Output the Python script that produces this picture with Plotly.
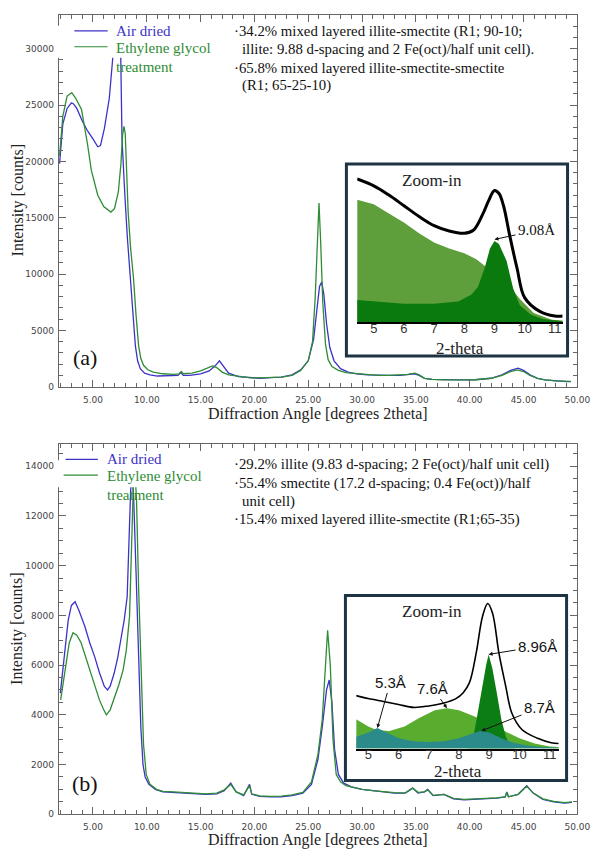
import plotly.graph_objects as go

W, H = 606, 855
def px(x): return x / W
def py(y): return 1 - y / H

# ---------------- data: panel (a) ----------------
a_air_x = [1.9, 2.2, 2.6, 3.0, 3.2, 3.5, 4.0, 4.5, 5.0, 5.45, 5.7, 6.06, 6.52, 6.82, 7.05, 7.3, 7.58, 7.7, 7.8, 7.97,
           8.2, 8.48, 8.7, 8.94, 9.15, 9.4, 9.8, 10.3, 11.0, 12.0, 12.9, 13.15, 13.4, 14.0, 15.0, 15.8, 16.4, 16.75,
           17.1, 17.6, 18.5, 19.5, 20.5, 21.5, 22.5, 23.5, 24.3, 25.0, 25.5, 25.8, 26.05, 26.25, 26.45, 26.7, 27.0,
           27.4, 28.0, 28.7, 29.5, 30.5, 31.5, 32.5, 33.5, 34.3, 34.9, 35.3, 35.8, 36.5, 37.5, 39.0, 40.5, 42.0,
           43.0, 43.8, 44.5, 45.0, 45.6, 46.3, 47.0, 48.0, 49.0, 49.4]
a_air_y = [19800, 23300, 24700, 25200, 25100, 24700, 23600, 22700, 22000, 21300, 21400, 22900, 25600, 28600, 31500,
           32000, 29500, 22000, 19500, 16900, 13200, 9600, 6600, 3650, 2300, 1600, 1200, 1050, 950, 950, 1000, 1250,
           1000, 1000, 1150, 1400, 1900, 2300, 1800, 1200, 900, 800, 750, 800, 850, 1050, 1500, 2300, 4200, 6800,
           8900, 9300, 8200, 5600, 3500, 2300, 1600, 1300, 1150, 1050, 1000, 1000, 1000, 1050, 1150, 1000, 750,
           650, 620, 600, 620, 750, 1050, 1450, 1650, 1450, 1050, 750, 600, 500, 450, 450]
a_eg_x = [1.9, 2.2, 2.6, 3.03, 3.4, 3.94, 4.5, 4.85, 5.45, 6.0, 6.67, 7.0, 7.36, 7.6, 7.75, 7.88, 8.0, 8.1, 8.27,
          8.5, 8.77, 9.0, 9.24, 9.45, 9.7, 10.1, 10.6, 11.5, 12.5, 13.0, 13.2, 13.4, 14.2, 15.0, 15.6, 16.1, 16.5,
          17.0, 17.6, 18.5, 19.5, 20.5, 21.5, 22.5, 23.5, 24.3, 25.0, 25.4, 25.65, 25.85, 26.0, 26.15, 26.35, 26.6,
          26.85, 27.2, 27.8, 28.5, 29.5, 30.5, 31.5, 32.5, 33.5, 34.3, 34.9, 35.3, 35.8, 36.5, 37.5, 39.0, 40.5,
          42.0, 43.0, 43.8, 44.4, 45.0, 45.6, 46.3, 47.0, 48.0, 49.0, 49.4]
a_eg_y = [20500, 24000, 25800, 26100, 25600, 24600, 21500, 19200, 17000, 16000, 15500, 15800, 17300, 19800, 22300,
          23100, 22500, 19500, 15500, 12300, 9600, 6400, 3650, 2500, 1900, 1500, 1300, 1150, 1100, 1150, 1350, 1150,
          1200, 1400, 1650, 1850, 1700, 1300, 1050, 900, 800, 780, 800, 850, 1000, 1450, 2300, 4000, 8000, 13500,
          16300, 13000, 7500, 3800, 2400, 1800, 1450, 1250, 1150, 1050, 1000, 1000, 1050, 1100, 1200, 1050, 750,
          650, 600, 600, 620, 750, 1000, 1350, 1500, 1350, 1000, 750, 600, 520, 480, 470]

# ---------------- data: panel (b) ----------------
b_air_x = [1.97, 2.3, 2.7, 3.0, 3.34, 3.7, 4.25, 4.7, 5.15, 5.6, 6.06, 6.36, 6.6, 6.97, 7.3, 7.58, 7.9, 8.18, 8.35,
           8.5, 8.65, 8.8, 9.0, 9.2, 9.45, 9.65, 9.85, 10.2, 10.8, 11.5, 12.5, 13.5, 14.5, 15.5, 16.5, 17.2, 17.8,
           18.3, 19.0, 19.55, 19.75, 20.5, 21.5, 22.5, 23.5, 24.5, 25.3, 25.9, 26.3, 26.7, 26.95, 27.2, 27.45, 27.8,
           28.3, 29.0, 30.0, 31.0, 32.0, 33.0, 34.0, 34.7, 35.2, 35.8, 36.1, 36.6, 37.6, 38.5, 39.5, 40.5, 41.5,
           42.5, 43.3, 43.45, 43.6, 44.5, 45.3, 45.9, 46.8, 47.8, 48.8, 49.5]
b_air_y = [4870, 6300, 7800, 8400, 8550, 8200, 7550, 6900, 6350, 5700, 5140, 5000, 5150, 5670, 6300, 7000, 7800, 8750,
           10800, 13000, 13800, 12500, 9800, 6500, 3500, 2000, 1500, 1200, 1000, 900, 880, 850, 820, 800, 820, 950,
           1250, 900, 750, 1200, 800, 720, 700, 700, 750, 850, 1200, 2200, 3500, 5000, 5400, 4500, 2600, 1600, 1250,
           1100, 1000, 950, 900, 850, 850, 1050, 850, 900, 1000, 750, 800, 620, 580, 600, 620, 650, 700, 900, 700,
           800, 1150, 850, 600, 500, 450, 480]
b_eg_x = [2.0, 2.4, 2.8, 3.15, 3.5, 3.9, 4.2, 4.7, 5.15, 5.6, 6.0, 6.25, 6.6, 7.0, 7.4, 7.8, 8.1, 8.4, 8.6, 8.75,
          8.9, 9.05, 9.25, 9.5, 9.7, 9.95, 10.3, 10.9, 11.5, 12.5, 13.5, 14.5, 15.5, 16.5, 17.2, 17.8, 18.3, 19.0,
          19.55, 19.75, 20.5, 21.5, 22.5, 23.5, 24.5, 25.3, 25.9, 26.3, 26.6, 26.8, 27.05, 27.3, 27.6, 28.0, 28.5,
          29.0, 30.0, 31.0, 32.0, 33.0, 34.0, 34.7, 35.2, 35.8, 36.1, 36.6, 37.6, 38.5, 39.5, 40.5, 41.5, 42.5,
          43.3, 43.45, 43.6, 44.5, 45.3, 45.9, 46.8, 47.8, 48.8, 49.5]
b_eg_y = [4600, 5800, 6900, 7300, 7200, 6900, 6500, 5800, 5140, 4600, 4200, 4000, 4200, 4700, 5200, 5800, 6600, 7950,
          10500, 13200, 13900, 12600, 9000, 5000, 2800, 1600, 1200, 1000, 920, 900, 870, 850, 820, 850, 980, 1200,
          900, 780, 1150, 820, 740, 720, 730, 780, 880, 1300, 2400, 3800, 6200, 7400, 6000, 3000, 1600, 1300, 1150,
          1100, 1000, 950, 900, 870, 850, 1050, 880, 900, 980, 760, 800, 640, 600, 610, 630, 660, 700, 880, 700,
          800, 1120, 850, 620, 520, 470, 500]

# ---------------- inset data (a) ----------------
ia_black_x = [4.45, 5.0, 5.5, 6.0, 6.5, 7.0, 7.5, 8.0, 8.3, 8.6, 8.8, 9.0, 9.15, 9.3, 9.5, 9.75, 10.0, 10.5, 11.0, 11.26]
ia_black_y = [93.5, 89, 83, 76, 69, 63, 59.5, 58, 60, 70, 79, 86, 84, 76, 57, 35, 16, 7, 4, 4]
ia_light_x = [4.45, 5.0, 5.5, 6.0, 6.5, 7.0, 7.5, 8.0, 8.4, 8.6, 9.0, 9.3, 9.6, 9.85, 10.3, 10.9, 11.26]
ia_light_y = [80, 77, 71, 65, 58, 52, 48, 45, 41, 38, 32, 27, 21, 15, 6, 1.5, 1]
ia_dark_x = [4.45, 5.0, 6.0, 7.0, 7.8, 8.24, 8.45, 8.67, 8.85, 9.0, 9.15, 9.4, 9.62, 9.84, 10.2, 10.6, 11.0, 11.26]
ia_dark_y = [14.5, 13.5, 12, 12, 13.5, 18, 23, 35, 48, 53, 51, 40, 22, 11, 5, 2, 1, 0.5]

# ---------------- inset data (b) ----------------
ib_black_x = [4.6, 5.0, 5.5, 6.0, 6.5, 7.0, 7.5, 7.9, 8.14, 8.35, 8.57, 8.78, 8.95, 9.11, 9.32, 9.54, 9.75, 10.08,
              10.6, 11.05, 11.3]
ib_black_y = [36, 34, 32, 30, 28, 29, 31, 34, 38, 45, 65, 90, 98.6, 92, 65, 43, 24, 13, 7, 4, 3.5]
ib_light_x = [4.6, 5.0, 5.3, 5.7, 6.2, 6.7, 7.2, 7.6, 8.0, 8.5, 9.0, 9.5, 10.0, 10.5, 11.0, 11.3]
ib_light_y = [20, 15, 12.5, 12, 15, 21, 26, 27.5, 26, 22, 17, 12, 7, 3.5, 1.5, 1]
ib_dark_x = [8.3, 8.45, 8.6, 8.75, 8.9, 8.98, 9.1, 9.25, 9.4, 9.55, 9.7, 9.85]
ib_dark_y = [0, 5, 22, 40, 57, 64, 55, 38, 20, 8, 2, 0]
ib_teal_x = [4.6, 5.0, 5.3, 5.6, 6.0, 6.5, 7.0, 7.5, 8.0, 8.4, 8.7, 9.0, 9.4, 9.8, 10.3, 10.8, 11.3]
ib_teal_y = [8, 11, 14, 11, 7, 5, 4.5, 5, 7, 10, 12, 11, 7, 4, 2, 1, 0.5]

x_ticks = [5, 10, 15, 20, 25, 30, 35, 40, 45, 50]
inset_ticks = [5, 6, 7, 8, 9, 10, 11]

BLUE = "#3c32c8"
GREEN = "#2e8c34"
SERIF = "Liberation Serif"
SANS = "DejaVu Sans"

fig = go.Figure()
fig.add_trace(go.Scatter(x=a_air_x, y=a_air_y, mode="lines", line=dict(color=BLUE, width=1.3),
                         xaxis="x", yaxis="y", name="Air dried", showlegend=False))
fig.add_trace(go.Scatter(x=a_eg_x, y=a_eg_y, mode="lines", line=dict(color=GREEN, width=1.3),
                         xaxis="x", yaxis="y", name="Ethylene glycol treatment", showlegend=False))
fig.add_trace(go.Scatter(x=b_air_x, y=b_air_y, mode="lines", line=dict(color=BLUE, width=1.3),
                         xaxis="x2", yaxis="y2", name="Air dried", showlegend=False))
fig.add_trace(go.Scatter(x=b_eg_x, y=b_eg_y, mode="lines", line=dict(color=GREEN, width=1.3),
                         xaxis="x2", yaxis="y2", name="Ethylene glycol treatment", showlegend=False))

# inset (a)
fig.add_trace(go.Scatter(x=ia_light_x, y=ia_light_y, mode="lines", fill="tozeroy", line=dict(width=0, color="#5e9f3c"),
                         fillcolor="#5e9f3c", xaxis="x3", yaxis="y3", showlegend=False))
fig.add_trace(go.Scatter(x=ia_dark_x, y=ia_dark_y, mode="lines", fill="tozeroy", line=dict(width=0, color="#0b7a0e"),
                         fillcolor="#0b7a0e", xaxis="x3", yaxis="y3", showlegend=False))
fig.add_trace(go.Scatter(x=ia_black_x, y=ia_black_y, mode="lines", line=dict(color="black", width=3, shape="spline"),
                         xaxis="x3", yaxis="y3", showlegend=False))
# inset (b)
fig.add_trace(go.Scatter(x=ib_light_x, y=ib_light_y, mode="lines", fill="tozeroy", line=dict(width=0, color="#58ad2f"),
                         fillcolor="#58ad2f", xaxis="x4", yaxis="y4", showlegend=False))
fig.add_trace(go.Scatter(x=ib_dark_x, y=ib_dark_y, mode="lines", fill="tozeroy", line=dict(width=0, color="#0c7d14"),
                         fillcolor="#0c7d14", xaxis="x4", yaxis="y4", showlegend=False))
fig.add_trace(go.Scatter(x=ib_teal_x, y=ib_teal_y, mode="lines", fill="tozeroy", line=dict(width=0, color="#2b8a8a"),
                         fillcolor="#2b8a8a", xaxis="x4", yaxis="y4", showlegend=False))
fig.add_trace(go.Scatter(x=ib_black_x, y=ib_black_y, mode="lines", line=dict(color="black", width=1.6, shape="spline"),
                         xaxis="x4", yaxis="y4", showlegend=False))

AXC = "#666666"
def main_x(domain_y_anchor):
    return dict(domain=[px(60), px(590)], range=[1.82, 50.0], anchor=domain_y_anchor,
                tickvals=x_ticks, ticktext=[f"{v:.2f}" for v in x_ticks],
                ticks="inside", ticklen=7, tickcolor=AXC, showline=True, linecolor=AXC, linewidth=1,
                mirror="ticks", showgrid=False, zeroline=False,
                minor=dict(ticks="inside", ticklen=4, dtick=1, tick0=0, tickcolor=AXC, showgrid=False),
                tickfont=dict(family=SANS, size=9, color="#444"), ticklabelstandoff=4)

def main_y(domain, rng, dtick, mdtick, xanchor):
    return dict(domain=domain, range=rng, anchor=xanchor, tick0=0, dtick=dtick, tickformat="d",
                ticks="inside", ticklen=7, tickcolor=AXC, showline=True, linecolor=AXC, linewidth=1,
                mirror="ticks", showgrid=False, zeroline=False,
                minor=dict(ticks="inside", ticklen=4, dtick=mdtick, tick0=0, tickcolor=AXC, showgrid=False),
                tickfont=dict(family=SANS, size=9, color="#444"), ticklabelstandoff=2)

def inset_x(domain, rng, yanchor):
    return dict(domain=domain, range=rng, anchor=yanchor, tickvals=inset_ticks, ticks="", ticklen=0,
                showline=True, linecolor="black", linewidth=2, showgrid=False, zeroline=False,
                tickfont=dict(family="Liberation Sans", size=13, color="#333"), ticklabelstandoff=-7)

def inset_y(domain, xanchor):
    return dict(domain=domain, range=[0, 100], anchor=xanchor, visible=False, showgrid=False, zeroline=False)

fig.update_layout(
    width=W, height=H, margin=dict(l=0, r=0, t=0, b=0),
    paper_bgcolor="white", plot_bgcolor="rgba(0,0,0,0)",
    xaxis=main_x("y"),
    yaxis=main_y([py(389), py(15)], [0, 33000], 5000, 1000, "x"),
    xaxis2=main_x("y2"),
    yaxis2=main_y([py(819), py(447)], [0, 14880], 2000, 500, "x2"),
    xaxis3=inset_x([px(365), px(575)], [4.45, 11.26], "y3"),
    yaxis3=inset_y([py(324), py(170)], "x3"),
    xaxis4=inset_x([px(364), px(571)], [4.6, 11.3], "y4"),
    yaxis4=inset_y([py(753), py(605)], "x4"),
)

shapes = []
# inset boxes (white background, dark border)
for (x0, y0, x1, y1) in [(354, 165, 580, 358), (353, 599, 579, 785)]:
    shapes.append(dict(type="rect", xref="paper", yref="paper", x0=px(x0), x1=px(x1), y0=py(y1), y1=py(y0),
                       line=dict(color="#1d3444", width=3), fillcolor="white", layer="below"))
# opaque legend backgrounds
for (x0, y0, x1, y1) in [(56, 26, 232, 58), (57, 463, 232, 490)]:
    shapes.append(dict(type="rect", xref="paper", yref="paper", x0=px(x0), x1=px(x1), y0=py(y1), y1=py(y0),
                       line=dict(width=0), fillcolor="white", layer="above"))
# legend line samples
for (x0, x1, y, c) in [(76, 110, 31, BLUE), (76, 110, 47, GREEN), (67, 100, 462, BLUE), (65, 100, 478, GREEN)]:
    shapes.append(dict(type="line", xref="paper", yref="paper", x0=px(x0), x1=px(x1), y0=py(y), y1=py(y),
                       line=dict(color=c, width=1.2), layer="above"))
fig.update_layout(shapes=shapes)

ann = []
def txt(x, y, s, size=15, color="#111", family=SERIF, xanchor="left", angle=0):
    ann.append(dict(xref="paper", yref="paper", x=px(x), y=py(y), text=s, showarrow=False,
                    xanchor=xanchor, yanchor="middle", textangle=angle,
                    font=dict(family=family, size=size, color=color)))

# legends
txt(117, 31, "Air dried", color=BLUE)
txt(117, 48, "Ethylene glycol", color=GREEN)
txt(117, 67, "treatment", color=GREEN)
txt(107, 462, "Air dried", color=BLUE)
txt(107, 479, "Ethylene glycol", color=GREEN)
txt(107, 498, "treatment", color=GREEN)

# composition notes
txt(237, 32, "·34.2% mixed layered illite-smectite (R1; 90-10;", size=14.8)
txt(245, 50, "illite: 9.88 d-spacing and 2 Fe(oct)/half unit cell).", size=14.8)
txt(237, 68, "·65.8% mixed layered illite-smectite-smectite", size=14.8)
txt(245, 86, "(R1; 65-25-10)", size=14.8)
txt(237, 467, "·29.2% illite (9.83 d-spacing; 2 Fe(oct)/half unit cell)", size=14.8)
txt(237, 486, "·55.4% smectite (17.2 d-spacing; 0.4 Fe(oct))/half", size=14.8)
txt(245, 504, "unit cell)", size=14.8)
txt(237, 523, "·15.4% mixed layered illite-smectite (R1;65-35)", size=14.8)

# panel labels
txt(87, 360, "(a)", size=22, xanchor="center")
txt(87, 788, "(b)", size=22, xanchor="center")

# axis titles
txt(325, 416, "Diffraction Angle [degrees 2theta]", size=16, color="#222", xanchor="center")
txt(325, 845, "Diffraction Angle [degrees 2theta]", size=16, color="#222", xanchor="center")
txt(18, 202, "Intensity [counts]", size=16, color="#222", xanchor="center", angle=-90)
txt(18, 633, "Intensity [counts]", size=16, color="#222", xanchor="center", angle=-90)

# inset titles
txt(441, 182, "Zoom-in", size=17, color="#222", xanchor="center")
txt(470, 351, "2-theta", size=17, color="#222", xanchor="center")
txt(441, 615, "Zoom-in", size=17, color="#222", xanchor="center")
txt(468, 776, "2-theta", size=17, color="#222", xanchor="center")

# peak annotations with arrows
def arrow(xr, yr, x, y, s, ax, ay, family):
    ann.append(dict(xref=xr, yref=yr, x=x, y=y, text=s, showarrow=True, arrowhead=2, arrowsize=0.8,
                    arrowwidth=1, arrowcolor="#111", ax=ax, ay=ay, standoff=0, startstandoff=1,
                    font=dict(family=family, size=15, color="#111")))

arrow("x3", "y3", 9.0, 54, "9.08Å", 42, -9, SERIF)
arrow("x4", "y4", 8.98, 64, "8.96Å", 49, -8, "Liberation Sans")
arrow("x4", "y4", 8.74, 12, "8.7Å", 58, -23, "Liberation Sans")
arrow("x4", "y4", 7.6, 27.5, "7.6Å", -14, -20, "Liberation Sans")
arrow("x4", "y4", 5.3, 14, "5.3Å", 13, -46, "Liberation Sans")

fig.update_layout(annotations=ann)
fig.write_html("out.html", config={"displayModeBar": False, "staticPlot": True},
               post_script="document.body.style.margin='0px';document.body.style.padding='0px';")
